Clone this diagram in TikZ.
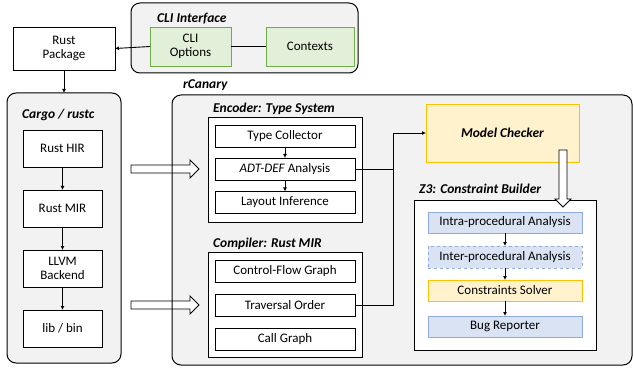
\documentclass[tikz,border=0pt]{standalone}
\usepackage{fontspec}
\setmainfont{Carlito}
\usetikzlibrary{arrows.meta}
\definecolor{panel}{HTML}{F2F2F2}
\definecolor{grfill}{HTML}{E2F0D9}
\definecolor{grline}{HTML}{70AD47}
\definecolor{yefill}{HTML}{FFF2CC}
\definecolor{yeline}{HTML}{FFC000}
\definecolor{blfill}{HTML}{DAE3F3}
\definecolor{blline}{HTML}{8FAADC}
\tikzset{
  every node/.style={font=\fontsize{13}{14.5}\selectfont},
  box/.style={draw, line width=0.9pt, inner sep=0pt, outer sep=0pt, align=center, fill=white},
  panelbox/.style={draw, line width=1pt, rounded corners=9pt, fill=panel, inner sep=0pt, outer sep=0pt},
  greenbox/.style={box, fill=grfill, draw=grline},
  yellowbox/.style={box, fill=yefill, draw=yeline},
  bluebox/.style={box, fill=blfill, draw=blline},
  lbl/.style={anchor=west, inner sep=0pt, font=\fontsize{13.5}{15}\selectfont\bfseries\itshape},
  conn/.style={line width=0.9pt, -{Latex[length=4pt,width=4pt]}},
  link/.style={line width=0.9pt},
  hollow/.style={draw, line width=0.9pt, fill=white, line join=miter},
}
\begin{document}
\begin{tikzpicture}[x=1pt, y=-1pt]
\useasboundingbox (0,0) rectangle (633,369);
% CLI interface
\node[panelbox, minimum width=227pt, minimum height=70pt] (cli) at (244.5,38) {};
\node[lbl] (clilbl) at (157,19) {CLI Interface};
\node[greenbox, minimum width=81pt, minimum height=39pt] (clio) at (190.5,46.5) {CLI\\[-1pt]Options};
\node[greenbox, minimum width=88pt, minimum height=39pt] (ctx) at (310,46.5) {Contexts};
\node[box, minimum width=102pt, minimum height=43pt] (pkg) at (64,48.5) {Rust\\[-1pt]Package};
\draw[link] (clio.east) -- (ctx.west);
\draw[conn] (clio.west) -- (pkg.east);
% Cargo
\node[panelbox, minimum width=114pt, minimum height=270pt] (cargo) at (64,228) {};
\draw[conn] (pkg.south) -- (cargo.north);
\node[lbl] (cargolbl) at (22,115) {Cargo / rustc};
\node[box, minimum width=79pt, minimum height=37pt] (hir) at (62.5,148.5) {Rust HIR};
\node[box, minimum width=79pt, minimum height=37pt] (mir) at (62.5,208.5) {Rust MIR};
\node[box, minimum width=79pt, minimum height=37pt] (llvm) at (62.5,268.5) {LLVM\\[-1pt]Backend};
\node[box, minimum width=79pt, minimum height=37pt] (lib) at (62.5,328.5) {lib / bin};
\draw[conn] (hir) -- (mir);
\draw[conn] (mir) -- (llvm);
\draw[conn] (llvm) -- (lib);
% rCanary
\node[panelbox, draw=none, minimum width=460pt, minimum height=270pt] (rc) at (402,230) {};
\node[lbl] (rclbl) at (183,85) {rCanary};
% hollow arrows from cargo to rCanary
\draw[hollow] (131,165) -- (190,165) -- (190,160) -- (199,169) -- (190,178) -- (190,173) -- (131,173) -- cycle;
\draw[hollow] (131,301) -- (190,301) -- (190,296) -- (199,305) -- (190,314) -- (190,309) -- (131,309) -- cycle;
\node[panelbox, fill=none, minimum width=460pt, minimum height=270pt] at (402,230) {};
% Encoder
\node[box, minimum width=154pt, minimum height=105pt] (enc) at (285,169.5) {};
\node[lbl] (enclbl) at (213,109) {Encoder: Type System};
\node[box, minimum width=140pt, minimum height=22pt] (tc) at (285,136) {Type Collector};
\node[box, minimum width=140pt, minimum height=22pt] (adt) at (285,169) {\textit{ADT-DEF} Analysis};
\node[box, minimum width=140pt, minimum height=22pt] (lay) at (285,202.5) {Layout Inference};
\draw[conn] (tc) -- (adt);
\draw[conn] (adt) -- (lay);
% Compiler
\node[box, minimum width=154pt, minimum height=105pt] (comp) at (285,304.5) {};
\node[lbl] (complbl) at (213,244) {Compiler: Rust MIR};
\node[box, minimum width=140pt, minimum height=22pt] (cfg) at (285,271) {Control-Flow Graph};
\node[box, minimum width=140pt, minimum height=22pt] (trav) at (285,305) {Traversal Order};
\node[box, minimum width=140pt, minimum height=22pt] (call) at (285,339) {Call Graph};
% Model checker
\node[yellowbox, minimum width=153pt, minimum height=58pt, font=\fontsize{13.5}{15}\selectfont\bfseries\itshape] (mc) at (502.5,133) {Model Checker};
\coordinate (j) at (393,169);
\draw[link] (adt.east) -- (j);
\draw[link] (trav.east) -| (j);
\draw[conn] (j) |- (mc.west);
% Z3
\node[box, minimum width=182pt, minimum height=150pt] (z3) at (505,275) {};
\node[lbl] (z3lbl) at (419,189) {Z3: Constraint Builder};
\node[bluebox, minimum width=154pt, minimum height=21pt] (intra) at (505,222.5) {Intra-procedural Analysis};
\node[bluebox, dashed, minimum width=154pt, minimum height=22pt] (inter) at (505,257) {Inter-procedural Analysis};
\node[yellowbox, minimum width=154pt, minimum height=21pt] (solver) at (505,290.5) {Constraints Solver};
\node[bluebox, minimum width=154pt, minimum height=21pt] (bug) at (505,326.5) {Bug Reporter};
\draw[conn] (intra) -- (inter);
\draw[conn] (inter) -- (solver);
\draw[conn] (solver) -- (bug);
% hollow down arrow
\draw[hollow] (559,150) -- (567,150) -- (567,199) -- (571,199) -- (563,207) -- (555,199) -- (559,199) -- cycle;
\end{tikzpicture}
\end{document}
